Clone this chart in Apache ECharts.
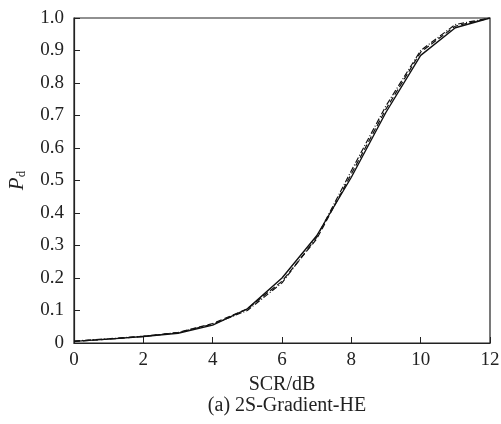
<!DOCTYPE html>
<html><head><meta charset="utf-8">
<script src="https://cdn.jsdelivr.net/npm/echarts@6/dist/echarts.min.js"></script>
<style>html,body{margin:0;padding:0;background:#fff}#c{width:501px;height:424px}</style>
</head><body><div id="c"></div>
<script>
const xValues = [0,1,2,3,4,5,6,7,8,9,10,11,12];
const solidSeries = [0.005,0.012,0.02,0.03,0.055,0.105,0.2,0.33,0.51,0.71,0.885,0.97,1.0];
const dashedSeries = [0.005,0.012,0.02,0.032,0.06,0.105,0.19,0.32,0.52,0.72,0.895,0.975,1.0];
const dashDotSeries = [0.006,0.013,0.021,0.032,0.058,0.1,0.185,0.325,0.53,0.73,0.9,0.98,1.0];
const xAxisName = 'SCR/dB';
const caption = '(a) 2S-Gradient-HE';
const font = 'Liberation Serif';
const pair = a => xValues.map((x,i)=>[x,a[i]]);
const chart = echarts.init(document.getElementById('c'));
const lineSeries = (data, type, w) => ({type:'line', data:pair(data), symbol:'none', lineStyle:{color:'#111', width:w, type:type}, z:3});
chart.setOption({
  animation:false,
  backgroundColor:'#fff',
  title:{text:caption, left:282, textAlign:'center', top:391, textStyle:{fontFamily:font, fontSize:20, fontWeight:'normal', color:'#222'}},
  grid:{left:74, right:11, top:18, bottom:81, show:true, borderColor:'#222', borderWidth:1.2, containLabel:false, outerBoundsMode:'none'},
  xAxis:{type:'value', min:0, max:12, interval:2, name:xAxisName, nameLocation:'middle', nameGap:27,
    nameTextStyle:{fontFamily:font, fontSize:20, color:'#222'},
    axisLine:{lineStyle:{color:'#222', width:1.2}}, axisTick:{inside:true, length:6, lineStyle:{color:'#222'}},
    axisLabel:{fontFamily:font, fontSize:19, color:'#222', margin:8}, splitLine:{show:false}},
  yAxis:{type:'value', min:0, max:1, interval:0.1, name:'{p|P}{d|d}', nameLocation:'middle', nameGap:46, nameRotate:90,
    nameTextStyle:{rich:{p:{fontFamily:font, fontStyle:'italic', fontSize:21, color:'#222'}, d:{fontFamily:font, fontSize:13, color:'#222', verticalAlign:'bottom', padding:[9,0,0,0]}}},
    axisLine:{lineStyle:{color:'#222', width:1.2}}, axisTick:{inside:true, length:6, lineStyle:{color:'#222'}},
    axisLabel:{fontFamily:font, fontSize:19, color:'#222', margin:10, formatter:v=> v===0?'0':v.toFixed(1)}, splitLine:{show:false}},
  series:[
    lineSeries(solidSeries,'solid',1.4),
    lineSeries(dashedSeries,[6,3],1.2),
    lineSeries(dashDotSeries,[6,2,1,2],1.2)
  ]
});
</script></body></html>
